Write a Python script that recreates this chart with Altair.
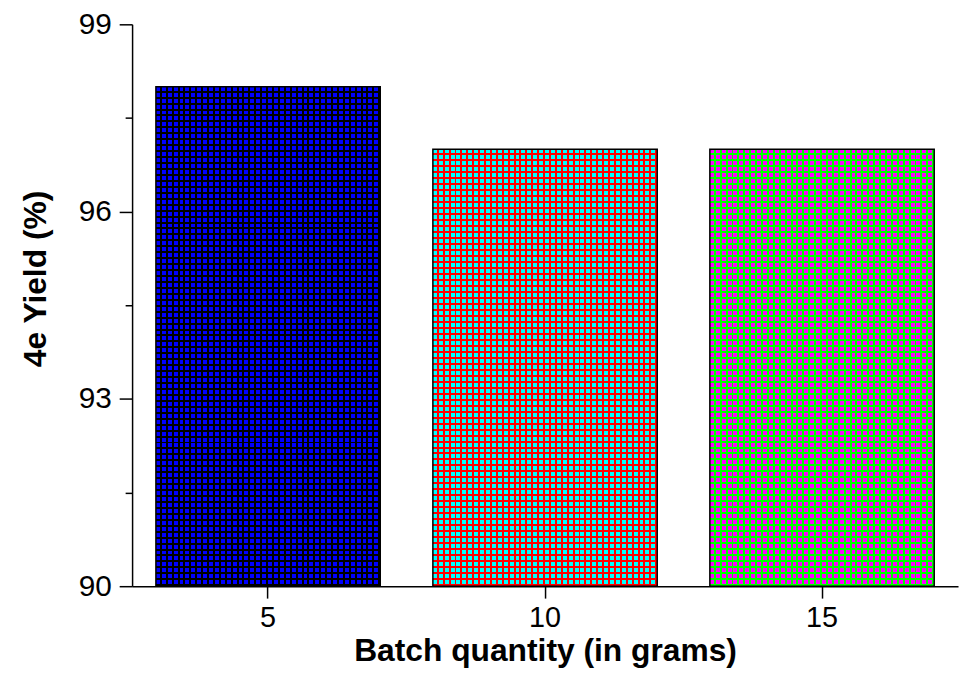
import altair as alt
import pandas as pd

# ---- data ----
quantities = ["5", "10", "15"]
yields = [98, 97, 97]
y_tick_values = [90, 91.5, 93, 94.5, 96, 97.5, 99]
base_colors = ["#0000FF", "#00FFFF", "#FF00FF"]
line_colors = ["#000000", "#FF0000", "#00FF00"]

df = pd.DataFrame({"qty": quantities, "yield": yields})

# ---- style / layout ----
PLOT_W, PLOT_H = 832, 566
PAD_TOP, PAD_BOTTOM = 14, 85
Y_MIN, Y_MAX = 90, 99
PERIOD = 6.0
LINE_FRAC = 2.0 / 6.0
BAR_PX_W = 226
FONT = "Liberation Sans"


def stripes(n, base, line, along_y):
    stops = []
    for i in range(n):
        a = i / n
        b = (i + 1 - LINE_FRAC) / n
        c = (i + 1) / n
        stops += [
            {"offset": a, "color": base},
            {"offset": b, "color": base},
            {"offset": b, "color": line},
            {"offset": c, "color": line},
        ]
    g = {"gradient": "linear", "stops": stops}
    if along_y:
        g.update(x1=0, y1=0, x2=0, y2=1)
    else:
        g.update(x1=0, y1=0, x2=1, y2=0)
    return g


x_enc = alt.X(
    "qty:O",
    sort=quantities,
    scale=alt.Scale(paddingInner=0.19, paddingOuter=0.086),
    axis=alt.Axis(
        title="Batch quantity (in grams)",
        labelAngle=0,
        labelFontSize=29,
        labelPadding=6,
        tickSize=12,
        titleY=75,
        titleBaseline="alphabetic",
    ),
)
y_enc = alt.Y(
    "yield:Q",
    scale=alt.Scale(domain=[Y_MIN, Y_MAX], zero=False, nice=False),
    axis=alt.Axis(
        title="4e Yield (%)",
        values=y_tick_values,
        labelExpr="datum.value % 3 === 0 ? datum.label : ''",
        labelOverlap=False,
        labelFontSize=30,
        labelPadding=8,
        tickSize={"condition": {"test": "datum.value % 3 === 0", "value": 13}, "value": 7},
        titleX=-97,
        titleY=256,
        titleBaseline="middle",
        grid=False,
    ),
)

layers = []
for q, v, bc, lc in zip(quantities, yields, base_colors, line_colors):
    h_px = (v - Y_MIN) / (Y_MAX - Y_MIN) * PLOT_H
    n_y = max(1, round(h_px / PERIOD))
    n_x = max(1, round(BAR_PX_W / PERIOD))
    base = alt.Chart(df).transform_filter(alt.datum.qty == q)
    layers.append(
        base.mark_bar(fill=stripes(n_y, bc, lc, True), strokeWidth=0).encode(
            x=x_enc, y=y_enc, y2=alt.datum(Y_MIN)
        )
    )
    layers.append(
        base.mark_bar(
            fill=stripes(n_x, "rgba(0,0,0,0)", lc, False),
            stroke="#000000",
            strokeWidth=1.5,
        ).encode(x=x_enc, y=y_enc, y2=alt.datum(Y_MIN))
    )

chart = (
    alt.layer(*layers)
    .properties(
        width=PLOT_W,
        height=PLOT_H,
        autosize=alt.AutoSizeParams(type="none"),
        padding={"left": 125, "top": PAD_TOP, "right": 3, "bottom": PAD_BOTTOM},
        background="white",
    )
    .configure_view(stroke=None)
    .configure_axis(
        labelFont=FONT,
        titleFont=FONT,
        labelColor="black",
        titleColor="black",
        titleFontSize=32,
        titleFontWeight="bold",
        domainColor="black",
        domainWidth=1.5,
        tickColor="black",
        tickWidth=1.5,
    )
)

chart.save("out.html", embed_options={"renderer": "svg", "actions": False})
